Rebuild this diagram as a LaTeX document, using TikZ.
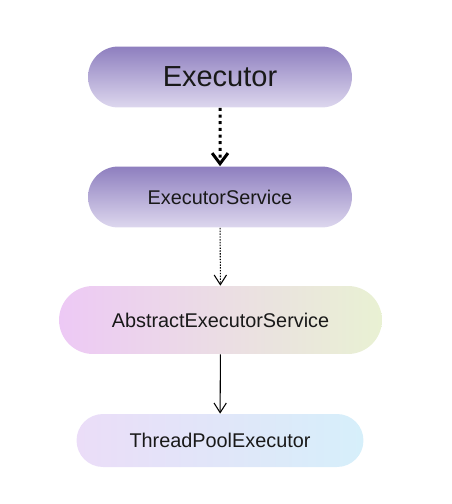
\documentclass[tikz,border=0pt]{standalone}
\usepackage{fontspec}
\setmainfont{Liberation Sans}
\usetikzlibrary{arrows.meta,shapes.misc}

\definecolor{ifacetop}{HTML}{8E7FBF}
\definecolor{ifacebot}{HTML}{DDD7EE}
\definecolor{absleft}{HTML}{EDC9F5}
\definecolor{absright}{HTML}{E9F1D3}
\definecolor{implleft}{HTML}{EBDDF8}
\definecolor{implright}{HTML}{D6EFFA}

\begin{document}
\begin{tikzpicture}[x=0.02cm,y=-0.02cm,line join=round,
  pill/.style={rounded rectangle,inner sep=0pt,text=black!90,
    font=\fontsize{11.3}{13}\selectfont},
  iface/.style={pill,minimum width=5.28cm,minimum height=1.22cm,
    top color=ifacetop,bottom color=ifacebot},
  barb/.style={-{Straight Barb[length=5.5pt,width=7pt]}}]
  \useasboundingbox (0,0) rectangle (452,504);
  \node[iface,font=\fontsize{16.5}{19}\selectfont] (exec) at (220,77) {Executor};
  \node[iface] (execsvc) at (220,197) {ExecutorService};
  \node[pill,minimum width=6.46cm,minimum height=1.36cm,
    left color=absleft,right color=absright] (abssvc) at (220.5,320) {AbstractExecutorService};
  \node[pill,minimum width=5.74cm,minimum height=1.06cm,
    left color=implleft,right color=implright] (pool) at (220,440.5) {ThreadPoolExecutor};
  % extends / implements
  \draw[line width=1.7pt,dash pattern=on 1.7pt off 2.1pt,
    -{Straight Barb[length=6pt,width=9pt]}] (exec) -- (execsvc);
  \draw[barb,line width=0.6pt,dash pattern=on 0.8pt off 0.8pt] (execsvc) -- (abssvc);
  \draw[barb,line width=0.6pt] (abssvc) -- (pool);
\end{tikzpicture}
\end{document}
